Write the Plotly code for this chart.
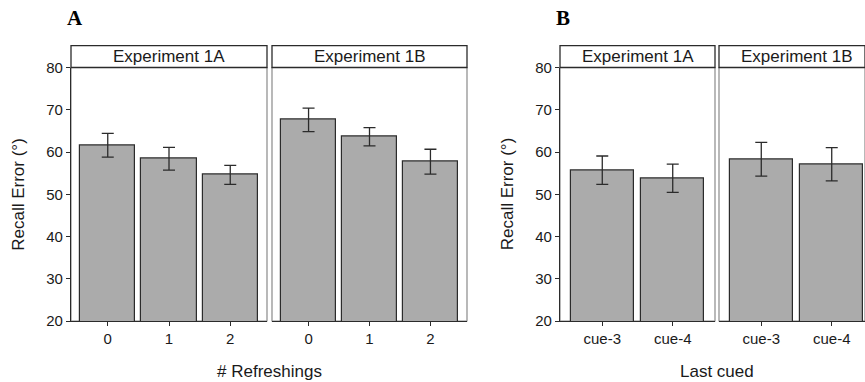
import plotly.graph_objects as go

# ---------------- data ----------------
refresh_cats = ["0", "1", "2"]
exp1a_refresh = [61.6, 58.4, 54.6]
exp1a_refresh_err = [2.8, 2.7, 2.25]
exp1b_refresh = [67.6, 63.6, 57.7]
exp1b_refresh_err = [2.8, 2.15, 2.95]

cue_cats = ["cue-3", "cue-4"]
exp1a_cue = [55.7, 53.8]
exp1a_cue_err = [3.35, 3.35]
exp1b_cue = [58.3, 57.1]
exp1b_cue_err = [4.0, 3.95]

strip_labels = ["Experiment 1A", "Experiment 1B"]
panel_letters = ["A", "B"]
x_titles = ["# Refreshings", "Last cued"]
y_title = "Recall Error (°)"
y_ticks = [20, 30, 40, 50, 60, 70, 80]

# ---------------- layout helpers ----------------
W, H = 865, 382
def px(x):
    return x / W
def py(y):
    return 1 - y / H

BAR_FILL = "#ababab"
LINE = "#2b2b2b"
BORDER = "#8a8a8a"
FONT = "Liberation Sans, Arial, sans-serif"
TXT = "#1a1a1a"

# panel pixel extents (left, right)
panels = [(71, 267), (272, 467), (560, 715), (719, 865)]
y_top, y_bot = 67.5, 321

fig = go.Figure()

series = [
    (refresh_cats, exp1a_refresh, exp1a_refresh_err),
    (refresh_cats, exp1b_refresh, exp1b_refresh_err),
    (cue_cats, exp1a_cue, exp1a_cue_err),
    (cue_cats, exp1b_cue, exp1b_cue_err),
]

for i, (cats, vals, errs) in enumerate(series):
    sfx = "" if i == 0 else str(i + 1)
    fig.add_trace(go.Bar(
        x=cats, y=vals,
        xaxis="x" + sfx, yaxis="y" + sfx,
        width=0.9,
        marker=dict(color=BAR_FILL, line=dict(color=LINE, width=1.2)),
        error_y=dict(type="data", array=errs, visible=True,
                     color=LINE, thickness=1.3, width=6),
        showlegend=False,
        hoverinfo="skip",
    ))

# x ranges (ggplot discrete expansion 0.6)
x_ranges = [
    [-0.6, 2.6],
    [-0.6, 2.6],
    [-0.6, 1.6],
    [-0.6, -0.6 + (865 - 719) / (155 / 2.2)],
]

layout = dict(
    width=W, height=H,
    margin=dict(l=0, r=0, t=0, b=0, autoexpand=False),
    plot_bgcolor="white", paper_bgcolor="white",
    bargap=0,
    font=dict(family=FONT, color=TXT, size=15),
)

for i, (l, r) in enumerate(panels):
    sfx = "" if i == 0 else str(i + 1)
    first = i in (0, 2)
    layout["xaxis" + sfx] = dict(
        domain=[px(l), min(1.0, px(r))],
        anchor="y" + sfx,
        type="category",
        range=x_ranges[i],
        automargin=False,
        showline=True, linecolor=LINE, linewidth=1.3,
        ticks="outside", ticklen=4, tickcolor=LINE, tickwidth=1.2,
        showgrid=False, zeroline=False,
        tickfont=dict(size=15, color=TXT, family=FONT),
        fixedrange=True,
    )
    layout["yaxis" + sfx] = dict(
        domain=[py(y_bot), py(y_top)],
        anchor="x" + sfx,
        range=[20, 80],
        automargin=False,
        tickvals=y_ticks,
        showticklabels=first,
        ticks="outside" if first else "",
        ticklen=4, tickcolor=LINE, tickwidth=1.2,
        showline=first, linecolor=LINE, linewidth=1.3,
        showgrid=False, zeroline=False,
        tickfont=dict(size=15, color=TXT, family=FONT),
        fixedrange=True,
    )

shapes = []
annotations = []
strip_top = 45.7
for i, (l, r) in enumerate(panels):
    # panel border (grey)
    shapes.append(dict(type="rect", xref="paper", yref="paper",
                       x0=px(l), x1=px(r), y0=py(y_bot), y1=py(y_top),
                       line=dict(color=BORDER, width=1.2), layer="below"))
    # strip box
    shapes.append(dict(type="rect", xref="paper", yref="paper",
                       x0=px(l), x1=px(r), y0=py(y_top), y1=py(strip_top),
                       line=dict(color=LINE, width=1.3), fillcolor="white"))
    cx = (l + r) / 2 if i != 3 else (719 + 874) / 2
    annotations.append(dict(text=strip_labels[i % 2], xref="paper", yref="paper",
                            x=px(cx), y=py((y_top + strip_top) / 2),
                            showarrow=False, xanchor="center", yanchor="middle",
                            font=dict(size=17, color=TXT, family=FONT)))

# y-axis titles
for xc in (18.5, 507):
    annotations.append(dict(text=y_title, xref="paper", yref="paper",
                            x=px(xc), y=py((y_top + y_bot) / 2), textangle=-90,
                            showarrow=False, xanchor="center", yanchor="middle",
                            font=dict(size=17, color=TXT, family=FONT)))

# x-axis titles
for xc, t in zip((269, 717), x_titles):
    annotations.append(dict(text=t, xref="paper", yref="paper",
                            x=px(xc), y=py(371), showarrow=False,
                            xanchor="center", yanchor="middle",
                            font=dict(size=17, color=TXT, family=FONT)))

# panel letters
for xc, t in zip((75, 563), panel_letters):
    annotations.append(dict(text="<b>" + t + "</b>", xref="paper", yref="paper",
                            x=px(xc), y=py(18), showarrow=False,
                            xanchor="center", yanchor="middle",
                            font=dict(size=21, color="#000000",
                                      family="Liberation Serif, Times New Roman, serif")))

layout["shapes"] = shapes
layout["annotations"] = annotations
fig.update_layout(**layout)

fig.write_html("out.html",
               config={"displayModeBar": False},
               post_script="document.body.style.margin='0';document.body.style.overflow='hidden';")
